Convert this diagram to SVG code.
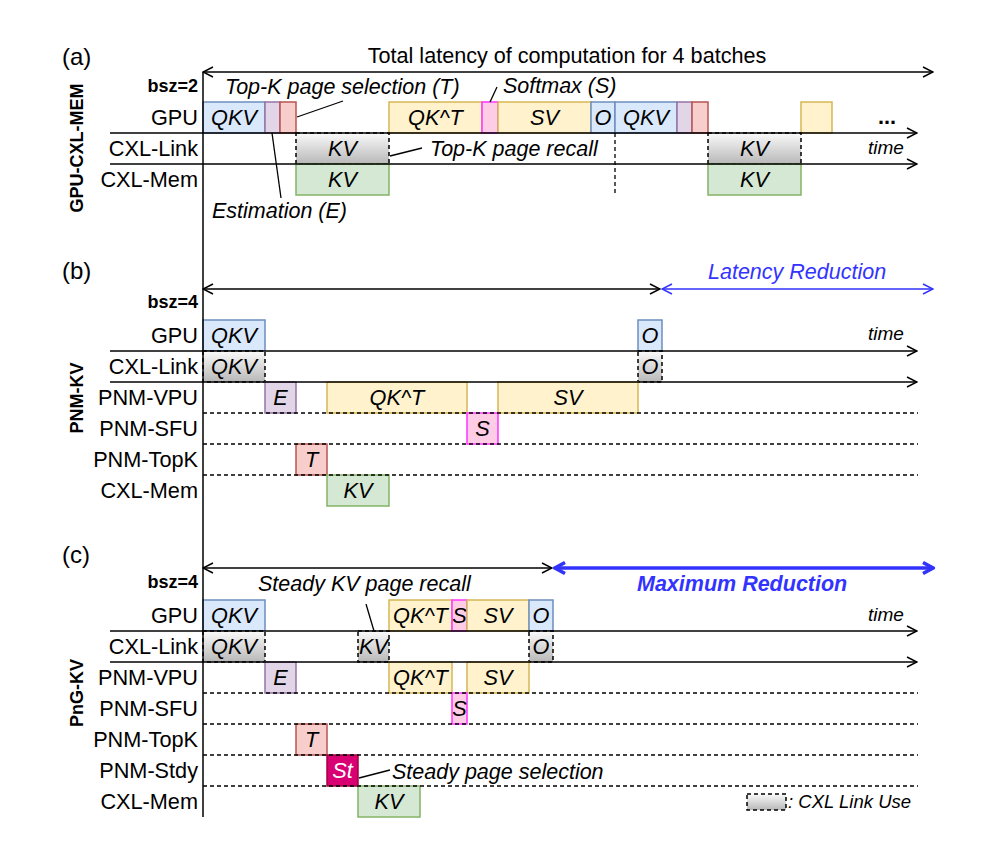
<svg xmlns="http://www.w3.org/2000/svg" width="997" height="861" viewBox="0 0 997 861">
<style>
text{font-family:"Liberation Sans",Arial,sans-serif;fill:#000}
.lbl{font-size:21.7px;text-anchor:end}
.bx{font-size:21.7px;font-style:italic;text-anchor:middle}
.ann{font-size:21.5px;font-style:italic}
.bsz{font-size:18px;font-weight:bold;text-anchor:end}
.sec{font-size:18px;font-weight:bold;text-anchor:middle}
.tm{font-size:19px;font-style:italic}
.ttl{font-size:21.6px}
.pl{font-size:24px}
.blue{fill:#dae8fc;stroke:#6c8ebf;stroke-width:1.5}
.purp{fill:#e1d5e7;stroke:#9673a6;stroke-width:1.5}
.red{fill:#f8cecc;stroke:#b85450;stroke-width:1.5}
.yel{fill:#fff2cc;stroke:#d6b656;stroke-width:1.5}
.pink{fill:#ffcce6;stroke:#ff33ff;stroke-width:1.5}
.grn{fill:#d5e8d4;stroke:#82b366;stroke-width:1.5}
.gry{fill:url(#gg);stroke:#000;stroke-width:1.5;stroke-dasharray:4 3}
.st{fill:#d80073;stroke:#a50040;stroke-width:1.5}
.ln{stroke:#000;stroke-width:1.5;fill:none}
.dl{stroke:#000;stroke-width:1.3;fill:none;stroke-dasharray:4 3}
.ld{stroke:#000;stroke-width:1.3;fill:none}
.arr{stroke:#000;stroke-width:1.5;fill:none;marker-end:url(#ah)}
.darr{stroke:#000;stroke-width:1.5;fill:none;marker-end:url(#ah);marker-start:url(#ah)}
</style>
<defs>
<linearGradient id="gg" x1="0" y1="0" x2="0" y2="1">
<stop offset="0" stop-color="#fafafa"/>
<stop offset="1" stop-color="#b8b8b8"/>
</linearGradient>
<marker id="ah" viewBox="0 0 12 12" refX="11" refY="6" markerWidth="12" markerHeight="12" markerUnits="userSpaceOnUse" orient="auto-start-reverse">
<path d="M1,1 L11,6 L1,11" fill="none" stroke="#000" stroke-width="1.5"/>
</marker>
<marker id="ahb" viewBox="0 0 12 12" refX="11" refY="6" markerWidth="12" markerHeight="12" markerUnits="userSpaceOnUse" orient="auto-start-reverse">
<path d="M1,1 L11,6 L1,11" fill="none" stroke="#3333ff" stroke-width="1.5"/>
</marker>
<marker id="ahB" viewBox="0 0 14 14" refX="12" refY="7" markerWidth="14" markerHeight="14" markerUnits="userSpaceOnUse" orient="auto-start-reverse">
<path d="M2,1.5 L12,7 L2,12.5" fill="none" stroke="#3333ff" stroke-width="3.5" stroke-linejoin="miter"/>
</marker>
</defs>
<rect width="997" height="861" fill="#fff"/>

<!-- ===== Section (a) ===== -->
<g id="a-title">
<text x="62" y="65" class="pl">(a)</text>
<text x="567" y="63" class="ttl" text-anchor="middle">Total latency of computation for 4 batches</text>
<text x="198" y="92" class="bsz">bsz=2</text>
<text transform="translate(83,148) rotate(-90)" class="sec">GPU-CXL-MEM</text>
<text x="198" y="125" class="lbl">GPU</text>
<text x="198" y="156" class="lbl">CXL-Link</text>
<text x="198" y="187" class="lbl">CXL-Mem</text>
<text x="868" y="154" class="tm">time</text>
<text x="878" y="124" class="ttl" font-weight="bold">...</text>
</g>
<g id="a-gpu-qkv"><rect x="203" y="102" width="62" height="31" class="blue"/><text x="234" y="125" class="bx">QKV</text></g>
<g id="a-gpu-e"><rect x="265" y="102" width="15" height="31" class="purp"/></g>
<g id="a-gpu-t"><rect x="280" y="102" width="16" height="31" class="red"/></g>
<g id="a-gpu-qkt"><rect x="389" y="102" width="93" height="31" class="yel"/><text x="435.5" y="125" class="bx">QK^T</text></g>
<g id="a-gpu-s"><rect x="482" y="102" width="16" height="31" class="pink"/></g>
<g id="a-gpu-sv"><rect x="498" y="102" width="93" height="31" class="yel"/><text x="544.5" y="125" class="bx">SV</text></g>
<g id="a-gpu-o"><rect x="591" y="102" width="24" height="31" class="blue"/><text x="603" y="125" class="bx">O</text></g>
<g id="a-gpu-qkv2"><rect x="615" y="102" width="62" height="31" class="blue"/><text x="646" y="125" class="bx">QKV</text></g>
<g id="a-gpu-e2"><rect x="677" y="102" width="15" height="31" class="purp"/></g>
<g id="a-gpu-t2"><rect x="692" y="102" width="16" height="31" class="red"/></g>
<g id="a-gpu-y2"><rect x="801" y="102" width="31" height="31" class="yel"/></g>
<g id="a-link-kv"><rect x="296" y="133" width="93" height="31" class="gry"/><text x="342.5" y="156" class="bx">KV</text></g>
<g id="a-link-kv2"><rect x="708" y="133" width="93" height="31" class="gry"/><text x="754.5" y="156" class="bx">KV</text></g>
<g id="a-mem-kv"><rect x="296" y="164" width="93" height="31" class="grn"/><text x="342.5" y="187" class="bx">KV</text></g>
<g id="a-mem-kv2"><rect x="708" y="164" width="93" height="31" class="grn"/><text x="754.5" y="187" class="bx">KV</text></g>
<g id="a-notes">
<text x="225" y="94" class="ann">Top-K page selection (T)</text>
<text x="503" y="93" class="ann">Softmax (S)</text>
<text x="430" y="156" class="ann">Top-K page recall</text>
<text x="212" y="218" class="ann">Estimation (E)</text>
</g>

<!-- ===== Section (b) ===== -->
<g id="b-title">
<text x="62" y="279" class="pl">(b)</text>
<text x="708" y="279" class="ann" style="fill:#3333ff">Latency Reduction</text>
<text x="198" y="308" class="bsz">bsz=4</text>
<text transform="translate(83,398) rotate(-90)" class="sec">PNM-KV</text>
<text x="198" y="343" class="lbl">GPU</text>
<text x="198" y="374" class="lbl">CXL-Link</text>
<text x="198" y="405" class="lbl">PNM-VPU</text>
<text x="198" y="436" class="lbl">PNM-SFU</text>
<text x="198" y="467" class="lbl">PNM-TopK</text>
<text x="198" y="498" class="lbl">CXL-Mem</text>
<text x="868" y="340" class="tm">time</text>
</g>
<g id="b-gpu-qkv"><rect x="203" y="320" width="62" height="31" class="blue"/><text x="234" y="343" class="bx">QKV</text></g>
<g id="b-gpu-o"><rect x="638" y="320" width="24" height="31" class="blue"/><text x="650" y="343" class="bx">O</text></g>
<g id="b-link-qkv"><rect x="203" y="351" width="62" height="31" class="gry"/><text x="234" y="374" class="bx">QKV</text></g>
<g id="b-link-o"><rect x="638" y="351" width="24" height="31" class="gry"/><text x="650" y="374" class="bx">O</text></g>
<g id="b-vpu-e"><rect x="265" y="382" width="31" height="31" class="purp"/><text x="280.5" y="405" class="bx">E</text></g>
<g id="b-vpu-qkt"><rect x="327" y="382" width="140" height="31" class="yel"/><text x="397" y="405" class="bx">QK^T</text></g>
<g id="b-vpu-sv"><rect x="498" y="382" width="140" height="31" class="yel"/><text x="568" y="405" class="bx">SV</text></g>
<g id="b-sfu-s"><rect x="467" y="413" width="31" height="31" class="pink"/><text x="482.5" y="436" class="bx">S</text></g>
<g id="b-topk-t"><rect x="296" y="444" width="31" height="31" class="red"/><text x="311.5" y="467" class="bx">T</text></g>
<g id="b-mem-kv"><rect x="327" y="475" width="62" height="31" class="grn"/><text x="358" y="498" class="bx">KV</text></g>

<!-- ===== Section (c) ===== -->
<g id="c-title">
<text x="62" y="563" class="pl">(c)</text>
<text x="637" y="591" class="ann" style="fill:#3333ff;font-weight:bold">Maximum Reduction</text>
<text x="198" y="588" class="bsz">bsz=4</text>
<text transform="translate(83,693) rotate(-90)" class="sec">PnG-KV</text>
<text x="198" y="623" class="lbl">GPU</text>
<text x="198" y="654" class="lbl">CXL-Link</text>
<text x="198" y="685" class="lbl">PNM-VPU</text>
<text x="198" y="716" class="lbl">PNM-SFU</text>
<text x="198" y="747" class="lbl">PNM-TopK</text>
<text x="198" y="778" class="lbl">PNM-Stdy</text>
<text x="198" y="809" class="lbl">CXL-Mem</text>
<text x="868" y="621" class="tm">time</text>
</g>
<g id="c-gpu-qkv"><rect x="203" y="600" width="62" height="31" class="blue"/><text x="234" y="623" class="bx">QKV</text></g>
<g id="c-gpu-qkt"><rect x="389" y="600" width="63" height="31" class="yel"/><text x="420.5" y="623" class="bx">QK^T</text></g>
<g id="c-gpu-s"><rect x="452" y="600" width="15" height="31" class="pink"/><text x="459.5" y="623" class="bx">S</text></g>
<g id="c-gpu-sv"><rect x="467" y="600" width="62" height="31" class="yel"/><text x="498" y="623" class="bx">SV</text></g>
<g id="c-gpu-o"><rect x="529" y="600" width="24" height="31" class="blue"/><text x="541" y="623" class="bx">O</text></g>
<g id="c-link-qkv"><rect x="203" y="631" width="62" height="31" class="gry"/><text x="234" y="654" class="bx">QKV</text></g>
<g id="c-link-kv"><rect x="358" y="631" width="31" height="31" class="gry"/><text x="373.5" y="654" class="bx">KV</text></g>
<g id="c-link-o"><rect x="529" y="631" width="24" height="31" class="gry"/><text x="541" y="654" class="bx">O</text></g>
<g id="c-vpu-e"><rect x="265" y="662" width="31" height="31" class="purp"/><text x="280.5" y="685" class="bx">E</text></g>
<g id="c-vpu-qkt"><rect x="389" y="662" width="63" height="31" class="yel"/><text x="420.5" y="685" class="bx">QK^T</text></g>
<g id="c-vpu-sv"><rect x="467" y="662" width="62" height="31" class="yel"/><text x="498" y="685" class="bx">SV</text></g>
<g id="c-sfu-s"><rect x="452" y="693" width="15" height="31" class="pink"/><text x="459.5" y="716" class="bx">S</text></g>
<g id="c-topk-t"><rect x="296" y="724" width="31" height="31" class="red"/><text x="311.5" y="747" class="bx">T</text></g>
<g id="c-stdy-st"><rect x="327" y="755" width="31" height="31" class="st"/><text x="342.5" y="778" class="bx" style="fill:#fff">St</text></g>
<g id="c-mem-kv"><rect x="358" y="786" width="62" height="31" class="grn"/><text x="389" y="809" class="bx">KV</text></g>
<g id="c-notes">
<text x="258" y="591" class="ann">Steady KV page recall</text>
<text x="392" y="779" class="ann">Steady page selection</text>
</g>
<g id="legend">
<rect x="747" y="794" width="39" height="16" class="gry"/>
<text x="788" y="808" style="font-size:18.5px;font-style:italic">: CXL Link Use</text>
</g>

<!-- ===== Connectors / axes ===== -->
<g id="connectors">
<line x1="203" y1="72" x2="203" y2="817" class="ln"/>
<line x1="203" y1="72" x2="933" y2="72" class="darr"/>
<line x1="110" y1="133" x2="917" y2="133" class="arr"/>
<line x1="110" y1="164" x2="917" y2="164" class="arr"/>
<line x1="615" y1="133" x2="615" y2="196" class="dl"/>
<line x1="297" y1="117" x2="343" y2="101" class="ld"/>
<line x1="272" y1="133" x2="281" y2="198" class="ld"/>
<line x1="490" y1="102" x2="497" y2="87" class="ld"/>
<line x1="390" y1="156" x2="422" y2="148" class="ld"/>

<line x1="203" y1="289" x2="660" y2="289" class="darr"/>
<line x1="662" y1="289" x2="933" y2="289" stroke="#3333ff" stroke-width="1.5" marker-start="url(#ahb)" marker-end="url(#ahb)"/>
<line x1="110" y1="351" x2="917" y2="351" class="arr"/>
<line x1="110" y1="382" x2="917" y2="382" class="arr"/>
<line x1="203" y1="413" x2="918" y2="413" class="dl"/>
<line x1="203" y1="444" x2="918" y2="444" class="dl"/>
<line x1="203" y1="475" x2="918" y2="475" class="dl"/>

<line x1="203" y1="568" x2="552" y2="568" class="darr"/>
<line x1="555" y1="568" x2="933" y2="568" stroke="#3333ff" stroke-width="3.5" marker-start="url(#ahB)" marker-end="url(#ahB)"/>
<line x1="110" y1="631" x2="917" y2="631" class="arr"/>
<line x1="110" y1="662" x2="917" y2="662" class="arr"/>
<line x1="203" y1="693" x2="918" y2="693" class="dl"/>
<line x1="203" y1="724" x2="918" y2="724" class="dl"/>
<line x1="203" y1="755" x2="918" y2="755" class="dl"/>
<line x1="203" y1="786" x2="918" y2="786" class="dl"/>
<line x1="374" y1="631" x2="366" y2="604" class="ld"/>
<line x1="359" y1="778" x2="390" y2="770" class="ld"/>
</g>
</svg>
